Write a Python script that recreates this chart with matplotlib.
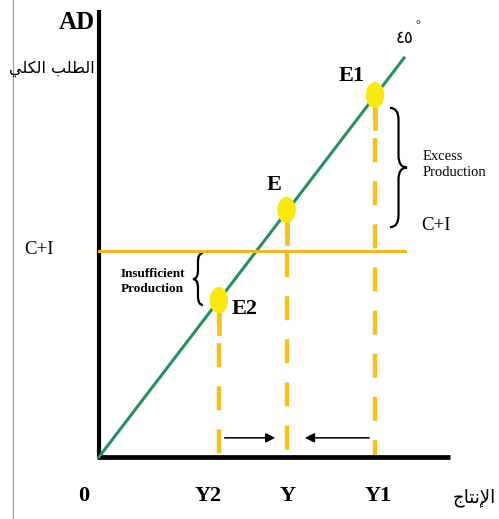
#!/usr/bin/env python3
"""Keynesian cross: AD = C+I vs the 45 degree line, with E, E1, E2."""
import matplotlib
matplotlib.use("Agg")
import matplotlib.pyplot as plt
from matplotlib.patches import Ellipse, PathPatch
from matplotlib.path import Path

# --- data ---------------------------------------------------------------------
income_labels = ["Y2", "Y", "Y1"]
income = [39.3, 61.5, 90.5]          # output level of each equilibrium point
point_labels = ["E2", "E", "E1"]
demand = [39.3, 61.9, 90.7]          # AD at the point (on the 45 degree line)
ci_level = 51.6                      # C+I (planned spending)
line_end = 100.0                     # end of the 45 degree line / C+I line

# pre-shaped Arabic (presentation forms, visual order)
AR_AD = "\ufef2\ufee0\ufedc\ufedf\ufe8d \ufe90\ufee0\ufec4\ufedf\ufe8d"   # الطلب الكلي
AR_OUT = "\ufe9d\ufe8e\ufe98\ufee7\ufef9\ufe8d"                          # الإنتاج
AR_45 = "\u0664\u0665"                                                   # ٤٥

GREEN = "#26905f"
GOLD = "#f4c21c"
CI_COL = "#f2b820"
DOT = "#fbe80f"
SERIF = "Liberation Serif"
AR = ["DejaVu Sans"]

fig = plt.figure(figsize=(4.99, 5.19), dpi=100)
ax = fig.add_axes([0, 0, 1, 1])
ax.set_xlim(-32.46, 131.15)
ax.set_ylim(-15.54, 114.54)
ax.axis("off")

# page border on the left
ax.plot([-28.2, -28.2], [-15.54, 114.54], color="#9a9a9a", lw=0.8)

# axes
ax.plot([0, 0], [-0.3, 112], color="black", lw=3, solid_capstyle="butt")
ax.plot([-0.8, 115], [0, 0], color="black", lw=3.4, solid_capstyle="butt")

# 45 degree line and C+I
ax.plot([0, line_end], [0, line_end], color=GREEN, lw=2.2)
ax.plot([0, line_end + 0.3], [ci_level, ci_level], color=CI_COL, lw=2.2)

# drop lines and points
for x, y in zip(income, demand):
    ax.plot([x, x], [y, 0.5], color=GOLD, lw=3.2, linestyle=(0, (5.4, 4.3)), zorder=3)
    ax.plot([x, x], [y, y - 8.2], color=GOLD, lw=3.4, zorder=3)
    ax.add_patch(Ellipse((x, y), 5.6, 6.2, color=DOT, zorder=4))

# arrows towards Y
ax.annotate("", xy=(58.7, 4.8), xytext=(40.3, 4.8),
            arrowprops=dict(arrowstyle="-|>", color="black", lw=1.1, mutation_scale=14))
ax.annotate("", xy=(66.6, 4.8), xytext=(89.5, 4.8),
            arrowprops=dict(arrowstyle="-|>", color="black", lw=1.1, mutation_scale=14))


def brace(x0, y_top, y_bot, w, d):
    """Curly brace; w > 0 points right, w < 0 points left."""
    xm = x0 + w / 2
    ym = (y_top + y_bot) / 2
    verts = [(x0, y_top), (xm, y_top), (xm, y_top - d),
             (xm, ym + d), (xm, ym), (x0 + w, ym),
             (xm, ym), (xm, ym - d),
             (xm, y_bot + d), (xm, y_bot), (x0, y_bot)]
    codes = [Path.MOVETO, Path.CURVE3, Path.CURVE3,
             Path.LINETO, Path.CURVE3, Path.CURVE3,
             Path.CURVE3, Path.CURVE3,
             Path.LINETO, Path.CURVE3, Path.CURVE3]
    ax.add_patch(PathPatch(Path(verts, codes), fill=False, color="black", lw=1.6))


brace(95.4, 87.5, 57.6, 5.6, 3.0)
brace(34.1, 51.1, 38.1, -3.3, 2.2)

# --- text ---------------------------------------------------------------------
ax.text(-1.3, 109.0, "AD", ha="right", va="center", fontsize=18,
        fontweight="bold", family=SERIF)
ax.text(-1.3, 97.3, AR_AD, ha="right", va="center", fontsize=11.5, family=AR)
ax.text(-19.7, 51.9, "C+I", ha="center", va="center", fontsize=13.5, family=SERIF)
ax.text(-4.9, -9.8, "0", ha="center", va="center", fontsize=16,
        fontweight="bold", family=SERIF)

label_dx = [-3.4, 0.3, 1.0]
for lbl, x, dx in zip(income_labels, income, label_dx):
    ax.text(x + dx, -9.8, lbl, ha="center", va="center", fontsize=16,
            fontweight="bold", family=SERIF)
ax.text(122.9, -10.3, AR_OUT, ha="center", va="center", fontsize=13, family=AR)

pt_offsets = [(8.6, -2.2), (-4.1, 6.3), (-7.6, 4.8)]
for lbl, x, y, (dx, dy) in zip(point_labels, income, demand, pt_offsets):
    ax.text(x + dx, y + dy, lbl, ha="center", va="center", fontsize=16,
            fontweight="bold", family=SERIF)

ax.text(100.3, 105.0, AR_45, ha="center", va="center", fontsize=12, family=AR)
ax.text(104.6, 108.3, "\u00b0", ha="center", va="center", fontsize=9, family=SERIF)

ax.text(106.2, 73.3, "Excess\nProduction", ha="left", va="center", fontsize=10.5,
        family=SERIF, linespacing=1.25)
ax.text(110.5, 58.1, "C+I", ha="center", va="center", fontsize=13.5, family=SERIF)
ax.text(7.2, 43.9, "Insufficient\nProduction", ha="left", va="center", fontsize=9.5,
        fontweight="bold", family=SERIF, linespacing=1.3)

fig.savefig("out.png", dpi=100)
